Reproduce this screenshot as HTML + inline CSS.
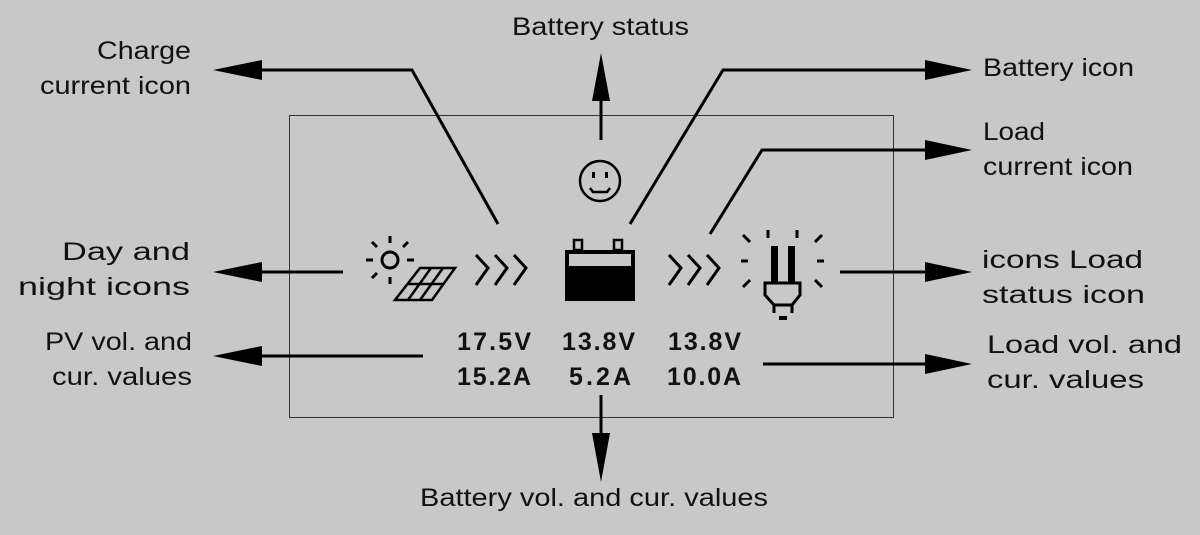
<!DOCTYPE html>
<html><head><meta charset="utf-8"><style>
html,body{margin:0;padding:0;background:#c8c8c8;}
svg{display:block}
text{font-family:"Liberation Sans",sans-serif;fill:#111;}
.l{font-size:25px}
.m{font-family:"Liberation Mono",monospace;font-weight:bold;font-size:25px;fill:#111}
</style></head><body>
<svg width="1200" height="535" viewBox="0 0 1200 535" xmlns="http://www.w3.org/2000/svg">
<rect width="1200" height="535" fill="#c8c8c8"/>
<rect x="289.5" y="115.5" width="604" height="302" fill="none" stroke="#333" stroke-width="1"/>
<g stroke="#000" stroke-width="3" fill="none">
<polyline points="260,70 412,70 498,224"/>
<line x1="601" y1="100" x2="601" y2="140"/>
<polyline points="630,224 723,70 928,70"/>
<polyline points="710,234 762,150 928,150"/>
<line x1="260" y1="272" x2="343" y2="272"/>
<line x1="840" y1="272" x2="928" y2="272"/>
<line x1="260" y1="356" x2="423" y2="356"/>
<line x1="763" y1="364" x2="928" y2="364"/>
<line x1="601" y1="395" x2="601" y2="435"/>
</g>
<g fill="#000">
<polygon points="213,70 262,60 262,80"/>
<polygon points="213,272 262,262 262,282"/>
<polygon points="213,356 262,346 262,366"/>
<polygon points="972,70 925,60 925,80"/>
<polygon points="972,150 925,140 925,160"/>
<polygon points="972,272 925,262 925,282"/>
<polygon points="972,364 925,354 925,374"/>
<polygon points="601,53 592,101 610,101"/>
<polygon points="601,482 592,433 610,433"/>
</g>
<g class="l" lengthAdjust="spacingAndGlyphs">
<text x="97" y="59" textLength="94" lengthAdjust="spacingAndGlyphs">Charge</text>
<text x="40" y="94" textLength="151" lengthAdjust="spacingAndGlyphs">current icon</text>
<text x="512" y="35" textLength="177" lengthAdjust="spacingAndGlyphs">Battery status</text>
<text x="983" y="76" textLength="151" lengthAdjust="spacingAndGlyphs">Battery icon</text>
<text x="983" y="140" textLength="62" lengthAdjust="spacingAndGlyphs">Load</text>
<text x="983" y="175" textLength="150" lengthAdjust="spacingAndGlyphs">current icon</text>
<text x="62" y="260" textLength="128" lengthAdjust="spacingAndGlyphs">Day and</text>
<text x="18" y="295" textLength="172" lengthAdjust="spacingAndGlyphs">night icons</text>
<text x="982" y="268" textLength="161" lengthAdjust="spacingAndGlyphs">icons Load</text>
<text x="982" y="303" textLength="163" lengthAdjust="spacingAndGlyphs">status icon</text>
<text x="45" y="350" textLength="147" lengthAdjust="spacingAndGlyphs">PV vol. and</text>
<text x="52" y="385" textLength="140" lengthAdjust="spacingAndGlyphs">cur. values</text>
<text x="987" y="353" textLength="195" lengthAdjust="spacingAndGlyphs">Load vol. and</text>
<text x="987" y="388" textLength="157" lengthAdjust="spacingAndGlyphs">cur. values</text>
<text x="420" y="506" textLength="348" lengthAdjust="spacingAndGlyphs">Battery vol. and cur. values</text>
</g>
<!-- smiley -->
<g stroke="#000" stroke-width="2.5" fill="none">
<circle cx="600" cy="181" r="20"/>
<path d="M590 188 L593 192 L607 192 L610 188"/>
</g>
<rect x="592" y="172" width="3" height="6" fill="#000"/>
<rect x="605" y="172" width="3" height="6" fill="#000"/>
<!-- sun -->
<g stroke="#000" stroke-width="3" fill="none">
<circle cx="390" cy="260" r="8"/>
<line x1="390" y1="236" x2="390" y2="243"/><line x1="390" y1="277" x2="390" y2="284"/>
<line x1="366" y1="260" x2="373" y2="260"/><line x1="407" y1="260" x2="414" y2="260"/>
<line x1="372" y1="242" x2="377" y2="247"/><line x1="403" y1="247" x2="408" y2="242"/>
<line x1="372" y1="278" x2="377" y2="273"/>
</g>
<!-- panel -->
<g stroke="#000" stroke-width="2.5" fill="none">
<polygon points="420,268 455,268 432,300 395,300"/>
<line x1="407" y1="284" x2="444" y2="284"/>
<line x1="431" y1="268" x2="408" y2="300"/>
<line x1="443" y1="268" x2="420" y2="300"/>
</g>
<!-- chevrons -->
<g stroke="#000" stroke-width="3" fill="none">
<polyline points="476,255 488,268 476,285"/>
<polyline points="495,255 507,268 495,285"/>
<polyline points="514,255 526,268 514,285"/>
<polyline points="669,255 681,268 669,285"/>
<polyline points="688,255 700,268 688,285"/>
<polyline points="707,255 719,268 707,285"/>
</g>
<!-- battery -->
<rect x="574" y="240" width="8" height="10" fill="none" stroke="#000" stroke-width="2.5"/>
<rect x="614" y="240" width="8" height="10" fill="none" stroke="#000" stroke-width="2.5"/>
<rect x="565" y="250" width="70" height="51" fill="#000"/>
<rect x="569" y="254" width="62" height="12" fill="#c8c8c8"/>
<!-- bulb -->
<g stroke="#000" stroke-width="3" fill="none">
<line x1="768" y1="230" x2="768" y2="238"/><line x1="797" y1="230" x2="797" y2="238"/>
<line x1="743" y1="235" x2="750" y2="242"/><line x1="822" y1="235" x2="815" y2="242"/>
<line x1="741" y1="261" x2="748" y2="261"/><line x1="817" y1="261" x2="824" y2="261"/>
<line x1="743" y1="287" x2="750" y2="280"/><line x1="822" y1="287" x2="815" y2="280"/>
<path d="M765 283 L800 283 L800 295 L792 305 L774 305 L765 295 Z"/>
<line x1="774" y1="305" x2="774" y2="313"/><line x1="792" y1="305" x2="792" y2="313"/>
</g>
<rect x="771" y="246" width="7" height="37" fill="#000"/>
<rect x="788" y="246" width="7" height="37" fill="#000"/>
<rect x="779" y="316" width="8" height="4" fill="#000"/>
<!-- numbers -->
<g class="m">
<text x="457" y="350" textLength="74">17.5V</text>
<text x="457" y="385" textLength="74">15.2A</text>
<text x="562" y="350" textLength="73">13.8V</text>
<text x="569" y="385" textLength="62">5.2A</text>
<text x="668" y="350" textLength="73">13.8V</text>
<text x="667" y="385" textLength="74">10.0A</text>
</g>
</svg>
</body></html>
